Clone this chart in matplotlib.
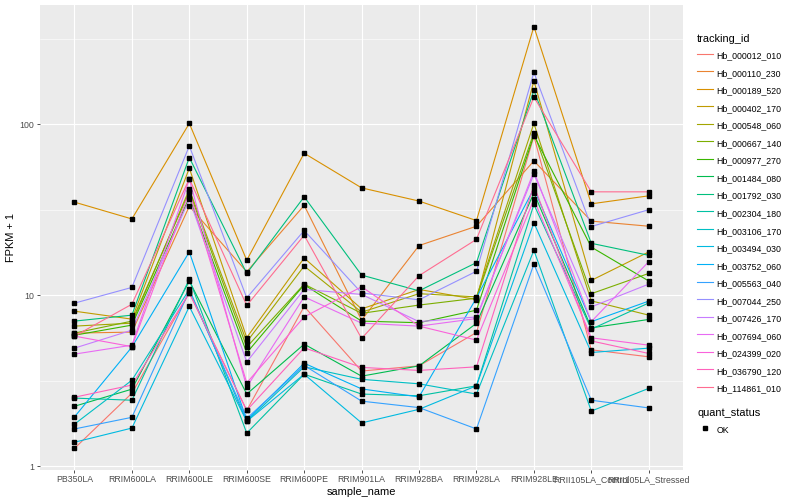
import matplotlib
matplotlib.use("Agg")
import matplotlib.pyplot as plt
from matplotlib.lines import Line2D
from matplotlib.ticker import FixedLocator, NullFormatter

plt.rcParams['font.family'] = ['Liberation Sans', 'DejaVu Sans']

SAMPLES = ["PB350LA", "RRIM600LA", "RRIM600LE", "RRIM600SE", "RRIM600PE",
           "RRIM901LA", "RRIM928BA", "RRIM928LA", "RRIM928LE",
           "RRII105LA_Control", "RRII105LA_Stressed"]

TRACKING_IDS = ["Hb_000012_010", "Hb_000110_230", "Hb_000189_520", "Hb_000402_170",
                "Hb_000548_060", "Hb_000667_140", "Hb_000977_270", "Hb_001484_080",
                "Hb_001792_030", "Hb_002304_180", "Hb_003106_170", "Hb_003494_030",
                "Hb_003752_060", "Hb_005563_040", "Hb_007044_250", "Hb_007426_170",
                "Hb_007694_060", "Hb_024399_020", "Hb_036790_120", "Hb_114861_010"]

# ggplot hue_pal()(20)
COLORS = ["#F8766D", "#EA8331", "#D89000", "#C09B00", "#A3A500", "#7CAE00",
          "#39B600", "#00BB4E", "#00BF7D", "#00C1A3", "#00BFC4", "#00BAE0",
          "#00B0F6", "#35A2FF", "#9590FF", "#C77CFF", "#E76BF3", "#FA62DB",
          "#FF62BC", "#FF6C91"]

# FPKM + 1, one list per tracking id, in sample order
FPKM = {
    "Hb_000012_010": [1.27, 2.67, 10.3, 2.12, 8.59, 3.6, 3.86, 6.05, 85, 4.79, 4.36],
    "Hb_000110_230": [6.0, 6.08, 33.1, 13.7, 33.5, 7.14, 19.5, 25.3, 61, 27.1, 25.3],
    "Hb_000189_520": [35, 27.9, 101, 16.0, 67.6, 42.4, 35.5, 27.3, 372, 34.2, 38.1],
    "Hb_000402_170": [8.06, 7.24, 55.3, 5.65, 16.5, 8.31, 10.8, 9.43, 179, 12.2, 17.9],
    "Hb_000548_060": [6.59, 6.86, 41.5, 5.33, 14.8, 7.95, 10.2, 9.77, 101, 9.26, 7.64],
    "Hb_000667_140": [6.0, 7.05, 40.2, 4.97, 11.6, 7.83, 8.75, 9.6, 89, 10.2, 13.4],
    "Hb_000977_270": [5.83, 6.68, 37.3, 4.6, 11.5, 7.05, 6.9, 8.17, 86, 19.1, 12.1],
    "Hb_001484_080": [2.24, 2.82, 12.1, 2.64, 5.17, 3.36, 3.86, 6.84, 39.6, 6.44, 7.21],
    "Hb_001792_030": [7.05, 7.64, 63.8, 13.4, 37.6, 13.1, 10.6, 15.5, 158, 20.1, 17.1],
    "Hb_002304_180": [2.50, 2.43, 12.4, 1.56, 3.45, 2.64, 2.58, 2.95, 33.9, 6.33, 9.0],
    "Hb_003106_170": [1.76, 3.18, 10.8, 1.83, 3.81, 3.22, 3.03, 2.64, 18.3, 2.1, 2.85],
    "Hb_003494_030": [1.38, 1.67, 8.59, 1.83, 3.45, 1.79, 2.15, 2.95, 26.5, 4.62, 4.9],
    "Hb_003752_060": [1.94, 4.97, 17.9, 1.86, 4.0, 2.83, 2.54, 9.64, 42, 7.0, 9.23],
    "Hb_005563_040": [1.65, 1.93, 10.6, 1.9, 3.88, 2.4, 2.2, 1.65, 15.2, 2.43, 2.19],
    "Hb_007044_250": [8.98, 11.1, 74.6, 9.64, 23.9, 10.3, 9.39, 13.8, 201, 25.2, 31.6],
    "Hb_007426_170": [4.9, 6.24, 36.4, 4.07, 10.8, 10.1, 7.0, 7.46, 51, 8.54, 11.6],
    "Hb_007694_060": [4.52, 5.1, 47.5, 2.9, 9.77, 6.86, 6.59, 7.3, 53, 7.0, 15.7],
    "Hb_024399_020": [5.76, 5.0, 40.2, 3.07, 7.46, 11.2, 6.59, 5.46, 36.3, 5.63, 5.1],
    "Hb_036790_120": [2.53, 2.98, 10.3, 2.12, 4.92, 3.78, 3.63, 3.81, 44, 5.4, 4.56],
    "Hb_114861_010": [5.76, 8.85, 47.9, 8.7, 22.4, 5.58, 13.0, 21.2, 144, 40.2, 40.2],
}

fig = plt.figure(figsize=(8, 5), dpi=100)
ax = fig.add_axes([0.05, 0.061, 0.804, 0.928])
ax.set_facecolor("#EBEBEB")

x = list(range(len(SAMPLES)))
for tid, col in zip(TRACKING_IDS, COLORS):
    ax.plot(x, FPKM[tid], color=col, lw=0.8, zorder=2)
for tid in TRACKING_IDS:
    ax.plot(x, FPKM[tid], ls="none", marker="s", ms=2.2, color="black", zorder=3)

ax.set_yscale("log")
ax.margins(y=0.05)
ax.set_xlim(-0.6, len(SAMPLES) - 0.4)
ax.set_yticks([1, 10, 100])
ax.set_yticklabels(["1", "10", "100"])
ax.yaxis.set_minor_locator(FixedLocator([10 ** 0.5, 10 ** 1.5, 10 ** 2.5]))
ax.yaxis.set_minor_formatter(NullFormatter())
ax.set_xticks(x)
ax.set_xticklabels(SAMPLES)

ax.grid(which="major", color="white", lw=0.8)
ax.grid(which="minor", axis="y", color="white", lw=0.4)
ax.set_axisbelow(True)
for s in ax.spines.values():
    s.set_visible(False)
ax.tick_params(which="major", length=2.5, width=0.6, color="#333333",
               labelsize=6.3, labelcolor="#4D4D4D", pad=1.5)
ax.tick_params(which="minor", length=0)

ax.set_xlabel("sample_name", fontsize=7.9, labelpad=2)
ax.set_ylabel("FPKM + 1", fontsize=7.9, labelpad=3)

handles = [Line2D([], [], color=c, lw=0.8) for c in COLORS]
leg1 = fig.legend(handles, TRACKING_IDS, title="tracking_id", loc="upper left",
                  bbox_to_anchor=(0.867, 0.94), frameon=False, fontsize=6.3,
                  title_fontsize=7.9, handlelength=1.8, handleheight=1.98,
                  labelspacing=0.47, handletextpad=0.4, borderaxespad=0)
leg1._legend_box.align = "left"
leg1._legend_box.sep = 4

ok = [Line2D([], [], ls="none", marker="s", ms=2.2, color="black")]
leg2 = fig.legend(ok, ["OK"], title="quant_status", loc="upper left",
                  bbox_to_anchor=(0.867, 0.192), frameon=False, fontsize=6.3,
                  title_fontsize=7.9, handlelength=1.8, handleheight=1.98,
                  labelspacing=0.47, handletextpad=0.4, borderaxespad=0)
leg2._legend_box.align = "left"
leg2._legend_box.sep = 4

fig.savefig("out.png", dpi=100)
